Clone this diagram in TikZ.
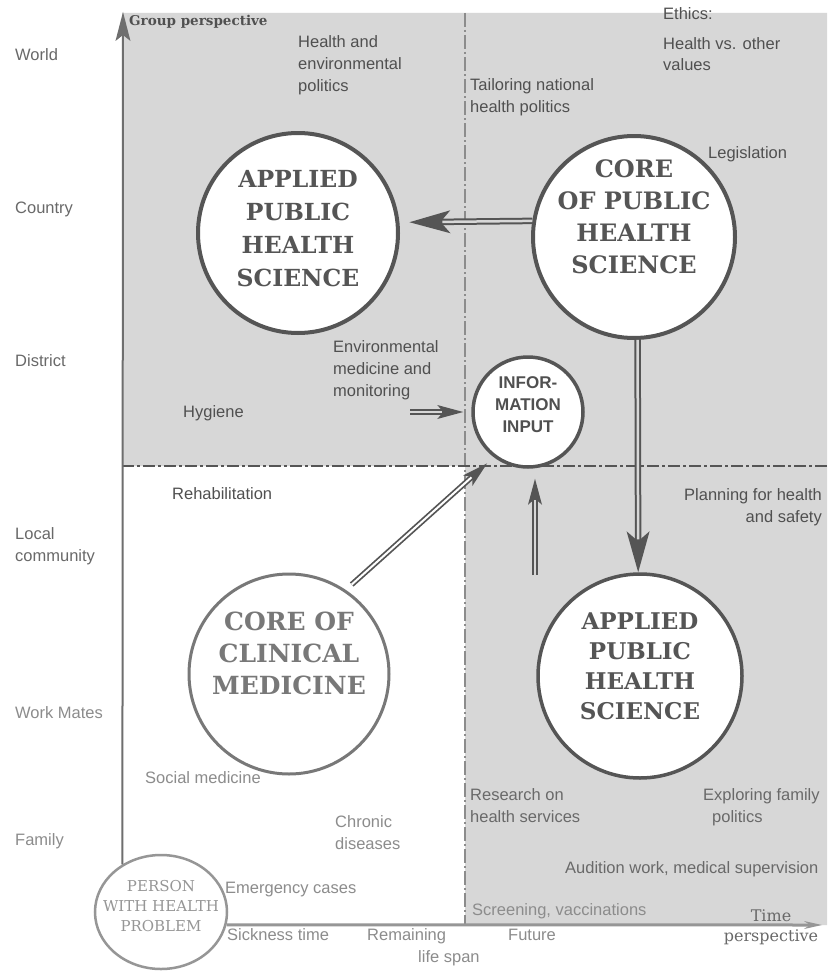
\documentclass[tikz,border=0pt]{standalone}
\usepackage{fontspec}
\usetikzlibrary{arrows.meta,shapes.geometric}
\setmainfont{Liberation Sans}
\newfontfamily\lsans{Liberation Sans}
\newfontfamily\lserif{DejaVu Serif}
\definecolor{bgc}{RGB}{215,215,215}
\definecolor{linec}{RGB}{85,85,85}
\definecolor{clinc}{RGB}{120,120,120}
\definecolor{persc}{RGB}{150,150,150}
\definecolor{txta}{RGB}{80,80,80}
\definecolor{txtb}{RGB}{105,105,105}
\definecolor{txtc}{RGB}{140,140,140}
\newcommand{\ml}[2][l]{\begin{tabular}[t]{@{}#1@{}}#2\end{tabular}}
\newcommand{\ctext}[2]{\raisebox{#1}[0pt][0pt]{\makebox[0pt]{\begin{tabular}{@{}c@{}}#2\end{tabular}}}}
\begin{document}
\begin{tikzpicture}[x=1pt,y=-1pt,
  lbl/.style={inner sep=0pt,anchor=base west,text=txta,font=\lsans\fontsize{16.5}{22}\selectfont},
  bigc/.style={circle,draw=linec,line width=4pt,fill=white,minimum size=200pt,inner sep=0pt,text=linec,font=\lserif\bfseries\fontsize{23.5}{33}\selectfont},
  shaft/.style={draw=linec,line width=6.5pt},
  gapl/.style={draw=bgc,line width=2.5pt},
  shaftS/.style={draw=linec,line width=5.5pt},
  gapS/.style={draw=bgc,line width=2pt},
  vdash/.style={draw=txtc,line width=1.5pt,dash pattern=on 14pt off 3pt on 2pt off 3pt},
  hdash/.style={draw=linec,line width=2pt,dash pattern=on 12pt off 3pt on 3pt off 3pt},
  bighead/.style={-{Stealth[length=41pt,width=23pt,inset=10pt,line width=0pt]}},
  smallhead/.style={-{Stealth[length=26pt,width=14pt,inset=6pt,line width=0pt]}},
]
\useasboundingbox (0,0) rectangle (827,974);
\fill[white] (0,0) rectangle (827,974);
\fill[bgc] (122,13) -- (827,13) -- (827,925) -- (465,925) -- (465,466) -- (122,466) -- cycle;
\draw[vdash] (465,13) -- (465,925);
\draw[hdash] (122,466) -- (827,466);

% circles
\node[bigc] (app1) at (298,233) {\ctext{-3.5pt}{APPLIED\\PUBLIC\\HEALTH\\SCIENCE}};
\node[bigc,minimum size=202pt,font=\lserif\bfseries\fontsize{24}{32}\selectfont] (core) at (634,237) {\ctext{12pt}{CORE\\OF PUBLIC\\HEALTH\\SCIENCE}};
\node[bigc,minimum size=204pt,line width=3.5pt,font=\lserif\bfseries\fontsize{23}{30}\selectfont] (app2) at (640,676) {\ctext{1pt}{APPLIED\\PUBLIC\\HEALTH\\SCIENCE}};
\node[bigc,draw=clinc,text=clinc,line width=3pt,font=\lserif\bfseries\fontsize{25}{32}\selectfont] (clin) at (289,674) {\ctext{12pt}{CORE OF\\CLINICAL\\MEDICINE}};
\node[circle,draw=linec,line width=3.5pt,fill=white,minimum size=110pt,inner sep=0pt,text=txta,font=\lsans\bfseries\fontsize{17}{22}\selectfont] (info) at (528,412) {\ctext{2pt}{INFOR-\\MATION\\INPUT}};
\node[ellipse,draw=persc,line width=2.5pt,fill=white,minimum width=132pt,minimum height=114pt,inner sep=0pt,text=persc,font=\lserif\fontsize{15}{20}\selectfont] (person) at (161,912) {\ctext{1pt}{PERSON\\WITH HEALTH\\PROBLEM}};

% axes
\coordinate (ytip) at (123,12);
\coordinate (xtip) at (822,925);
\draw[draw=linec!85,line width=2pt,-{Stealth[length=29pt,width=15pt,inset=6pt,line width=0pt]}] (person.129) -- (ytip);
\draw[draw=persc,line width=3pt,-{Stealth[length=18pt,width=8pt,line width=0pt]}] (person.-11.5) -- (xtip);

% arrows
\draw[shaft,bighead,shorten >=10pt] (core.171.5) -- (app1.6.3);
\draw[gapl,shorten >=43pt] (core.171.5) -- (app1.6.3);
\draw[shaft,bighead] (core.-88.3) -- (app2.91.7);
\draw[gapl,shorten >=33pt] (core.-88.3) -- (app2.91.7);
\coordinate (envs) at (410,412);
\draw[shaftS,smallhead,shorten >=8pt] (envs) -- (info.west);
\draw[gapS,shorten >=29pt] (envs) -- (info.west);
\draw[shaftS,smallhead,shorten <=8pt,shorten >=9pt] (clin.56.7) -- (info.233);
\draw[gapS,draw=white,shorten <=8pt,shorten >=30pt] (clin.56.7) -- (info.233);
\coordinate (ups) at (535,575);
\draw[shaftS,smallhead,shorten >=10pt] (ups) -- (info.south -| ups);
\draw[gapS,shorten >=31pt] (ups) -- (info.south -| ups);

% labels
\node[lbl,text=txtb] (lworld) at (15,60) {World};
\node[lbl,text=txtb] (lcountry) at (15,213) {Country};
\node[lbl,text=txtb] (ldistrict) at (15,366) {District};
\node[lbl,text=txtb] (llocal) at (15,539) {\ml{Local\\community}};
\node[lbl,text=txtc] (lwork) at (15,718) {Work Mates};
\node[lbl,text=txtc] (lfamily) at (15,845) {Family};
\node[inner sep=0pt,anchor=base west,text=txta,font=\lserif\bfseries\fontsize{13.5}{18}\selectfont] (gp) at (129,26) {Group perspective};
\node[lbl] (hep) at (298,48) {\ml{Health and\\environmental\\politics}};
\node[lbl] (eth) at (663,20) {\ml{Ethics:\\[7pt]Health vs. other\\values}};
\node[lbl] (tail) at (470,90) {\ml{Tailoring national\\health politics}};
\node[lbl] (legis) at (708,158) {Legislation};
\node[lbl] (envm) at (333,352) {\ml{Environmental\\medicine and\\monitoring}};
\node[lbl] (hyg) at (183,417) {Hygiene};
\node[lbl] (rehab) at (172,499) {Rehabilitation};
\node[lbl,anchor=base east] (plan) at (822,500) {\ml[r]{Planning for health\\and safety}};
\node[lbl,text=txtc] (socm) at (145,783) {Social medicine};
\node[lbl,text=txtc] (chron) at (335,827) {\ml{Chronic\\diseases}};
\node[lbl,text=txtc] (emerg) at (225,893) {Emergency cases};
\node[lbl,text=txtc] (sick) at (227,940) {Sickness time};
\node[lbl,text=txtc] (remain) at (367,940) {\ml{Remaining\\\hspace*{51pt}life span}};
\node[lbl,text=txtc] (fut) at (508,940) {Future};
\node[lbl,text=txtb] (res) at (470,800) {\ml{Research on\\health services}};
\node[lbl,text=txtb] (expl) at (703,800) {\ml{Exploring family\\\hspace*{9pt}politics}};
\node[lbl,text=txtb] (aud) at (565,873) {Audition work, medical supervision};
\node[lbl,text=txtc] (scr) at (472,915) {Screening, vaccinations};
\node[inner sep=0pt,anchor=base,text=txtb,font=\lserif\fontsize{16}{20}\selectfont] (tp) at (771,921) {\ml[c]{Time\\perspective}};
\end{tikzpicture}
\end{document}
